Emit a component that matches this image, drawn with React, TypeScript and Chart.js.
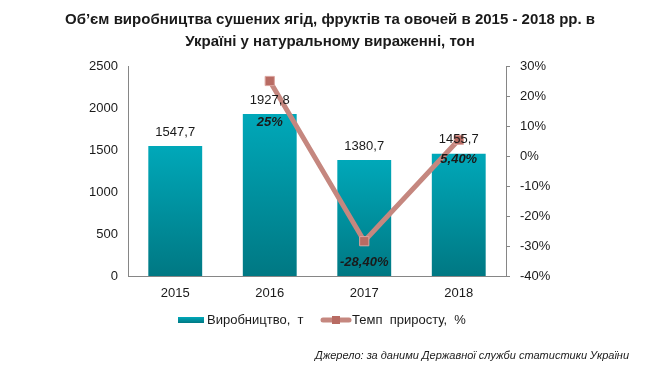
import React, { useEffect, useRef } from "react";
import { Chart, registerables } from "chart.js";

Chart.register(...registerables);

const categories = ["2015", "2016", "2017", "2018"];
const production = [1547.7, 1927.8, 1380.7, 1455.7];
const growth = [null, 25, -28.4, 5.4];
const productionLabels = ["1547,7", "1927,8", "1380,7", "1455,7"];
const growthLabels = ["", "25%", "-28,40%", "5,40%"];
const titleLines = [
  "Об’єм виробництва сушених ягід, фруктів та овочей в 2015 - 2018 рр. в",
  "Україні у натуральному вираженні, тон",
];
const legendLabels = ["Виробництво,  т", "Темп  приросту,  %"];
const sourceText = "Джерело: за даними Державної служби статистики України";

const FONT = "'Liberation Sans', Arial, sans-serif";
const TEXT = "#1a1a1a";
const AXIS = "#868686";
const LINE = "#c5877f";
const MARKER = "#b86b63";
const MARKER_BORDER = "#dba49e";
const growthLabelOffset = [0, 41, 21, 20];

function barGradient(ctx: CanvasRenderingContext2D, top: number, bottom: number) {
  const g = ctx.createLinearGradient(0, top, 0, bottom);
  g.addColorStop(0, "#00a8b9");
  g.addColorStop(1, "#007883");
  return g;
}

const decorPlugin = {
  id: "decor",
  afterDraw(chart: any) {
    const ctx: CanvasRenderingContext2D = chart.ctx;
    ctx.save();
    // title
    ctx.fillStyle = TEXT;
    ctx.font = `bold 15px ${FONT}`;
    ctx.textAlign = "center";
    ctx.textBaseline = "middle";
    ctx.fillText(titleLines[0], 330, 20);
    ctx.fillText(titleLines[1], 330, 42);

    // data labels
    const barMeta = chart.getDatasetMeta(1);
    ctx.font = `13px ${FONT}`;
    barMeta.data.forEach((el: any, i: number) => {
      ctx.fillText(productionLabels[i], el.x, el.y - 14);
    });
    const lineMeta = chart.getDatasetMeta(0);
    ctx.font = `italic bold 13px ${FONT}`;
    lineMeta.data.forEach((el: any, i: number) => {
      if (growth[i] === null) return;
      ctx.fillText(growthLabels[i], el.x, el.y + growthLabelOffset[i]);
    });

    // legend
    const ly = 320;
    ctx.fillStyle = barGradient(ctx, ly - 3, ly + 3);
    ctx.fillRect(178, ly - 3, 26, 6);
    ctx.fillStyle = TEXT;
    ctx.font = `13px ${FONT}`;
    ctx.textAlign = "left";
    ctx.fillText(legendLabels[0], 207, ly);
    ctx.strokeStyle = LINE;
    ctx.lineWidth = 5;
    ctx.lineCap = "round";
    ctx.beginPath();
    ctx.moveTo(323, ly);
    ctx.lineTo(349, ly);
    ctx.stroke();
    ctx.fillStyle = MARKER;
    ctx.fillRect(332, ly - 4, 8, 8);
    ctx.fillStyle = TEXT;
    ctx.fillText(legendLabels[1], 352, ly);

    // source
    ctx.font = `italic 11px ${FONT}`;
    ctx.textAlign = "right";
    ctx.fillText(sourceText, 629, 356);
    ctx.restore();
  },
};

export default function App() {
  const ref = useRef<HTMLCanvasElement>(null);
  useEffect(() => {
    document.body.style.margin = "0";
    const canvas = ref.current!;
    const chart = new Chart(canvas, {
      type: "bar",
      data: {
        labels: categories,
        datasets: [
          {
            type: "line",
            label: legendLabels[1],
            data: growth as any,
            yAxisID: "y1",
            borderColor: LINE,
            borderWidth: 5,
            pointStyle: "rect",
            pointRadius: 6.5,
            pointBackgroundColor: MARKER,
            pointBorderColor: MARKER_BORDER,
            pointBorderWidth: 1,
            order: 0,
          },
          {
            type: "bar",
            label: legendLabels[0],
            data: production,
            yAxisID: "y",
            backgroundColor: (c: any) => {
              const area = c.chart.chartArea;
              const ys = c.chart.scales?.y;
              if (!area || !ys || c.parsed == null) return "#0096a5";
              return barGradient(c.chart.ctx, ys.getPixelForValue(c.parsed.y), area.bottom);
            },
            barPercentage: 0.57,
            categoryPercentage: 1,
            order: 1,
          },
        ],
      },
      options: {
        animation: false,
        responsive: false,
        layout: { padding: { top: 66, left: 0, right: 0, bottom: 0 } },
        plugins: {
          legend: { display: false },
          title: { display: false },
          tooltip: { enabled: false },
        },
        scales: {
          x: {
            grid: { display: false, drawTicks: false },
            border: { color: AXIS, width: 1 },
            ticks: { color: TEXT, font: { family: FONT, size: 13 }, padding: 10 },
            afterFit: (s: any) => { s.height = 92; },
          },
          y: {
            position: "left",
            min: 0,
            max: 2500,
            ticks: {
              stepSize: 500,
              color: TEXT,
              font: { family: FONT, size: 13 },
              padding: 10,
              callback: (v: any) => String(v),
            },
            grid: { display: false, drawTicks: false },
            border: { color: AXIS, width: 1 },
            afterFit: (s: any) => { s.width = 128; },
          },
          y1: {
            position: "right",
            min: -40,
            max: 30,
            ticks: {
              stepSize: 10,
              color: TEXT,
              font: { family: FONT, size: 13 },
              padding: 10,
              callback: (v: any) => `${v}%`,
            },
            grid: { drawOnChartArea: false, drawTicks: true, tickLength: 4, color: AXIS },
            border: { color: AXIS, width: 1 },
            afterFit: (s: any) => { s.width = 153; },
          },
        },
      },
      plugins: [decorPlugin],
    });
    return () => chart.destroy();
  }, []);
  return (
    <div style={{ position: "absolute", left: 0, top: 0, width: 659, height: 368 }}>
      <canvas ref={ref} width={659} height={368} />
    </div>
  );
}
